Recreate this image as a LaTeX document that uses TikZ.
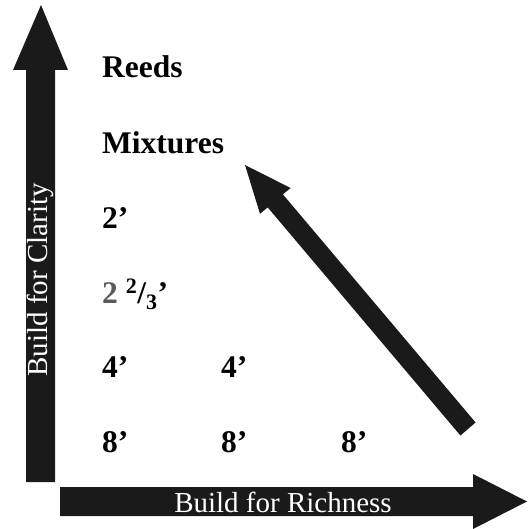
\documentclass[tikz,border=0pt]{standalone}
\usepackage{fontspec}
\setmainfont{Liberation Serif}
\usepackage{tikz}
\definecolor{ink}{HTML}{1A1A1A}
\definecolor{dim}{HTML}{5A5A5A}
\tikzset{sc/.style={x=1pt,y=-1pt},
  stop/.style={font=\fontsize{31.5}{31.5}\selectfont\bfseries,anchor=base west,inner sep=0pt},
  axl/.style={font=\fontsize{29}{29}\selectfont,text=white,inner sep=0pt}}

\begin{document}
\begin{tikzpicture}[sc]
  \useasboundingbox (0,0) rectangle (528,529);
  % axes
  \fill[ink] (26,482)--(26,70)--(13,70)--(41,5)--(68,70)--(55,70)--(55,482)--cycle;
  \fill[ink] (60,487)--(473,487)--(473,474)--(527,501.5)--(473,529)--(473,516)--(60,516)--cycle;
  \node[axl,rotate=90] (clarity) at (40.5,280){Build for Clarity};
  \node[axl] (richness) at (283,502){Build for Richness};
  % stops
  \node[stop] (reeds) at (102,78){Reeds};
  \node[stop] (mix) at (102,154){Mixtures};
  \node[stop] (two) at (102,228){2’};
  \node[stop] (twothird) at (102,303){\textcolor{dim}{2} \textsuperscript{2}/\textsubscript{3}’};
  \node[stop] (fourA) at (102,377){4’};\node[stop] (fourB) at (221,377){4’};
  \node[stop] (eightA) at (102,452){8’};\node[stop] (eightB) at (221,452){8’};
  \node[stop] (eightC) at (341,452){8’};
  % diagonal
  \fill[ink] (475.6,422.5)--(282.9,194.4)--(290.6,188.0)--(245,165)--(260.0,213.8)--(267.7,207.4)--(460.4,435.5)--cycle;
\end{tikzpicture}
\end{document}
